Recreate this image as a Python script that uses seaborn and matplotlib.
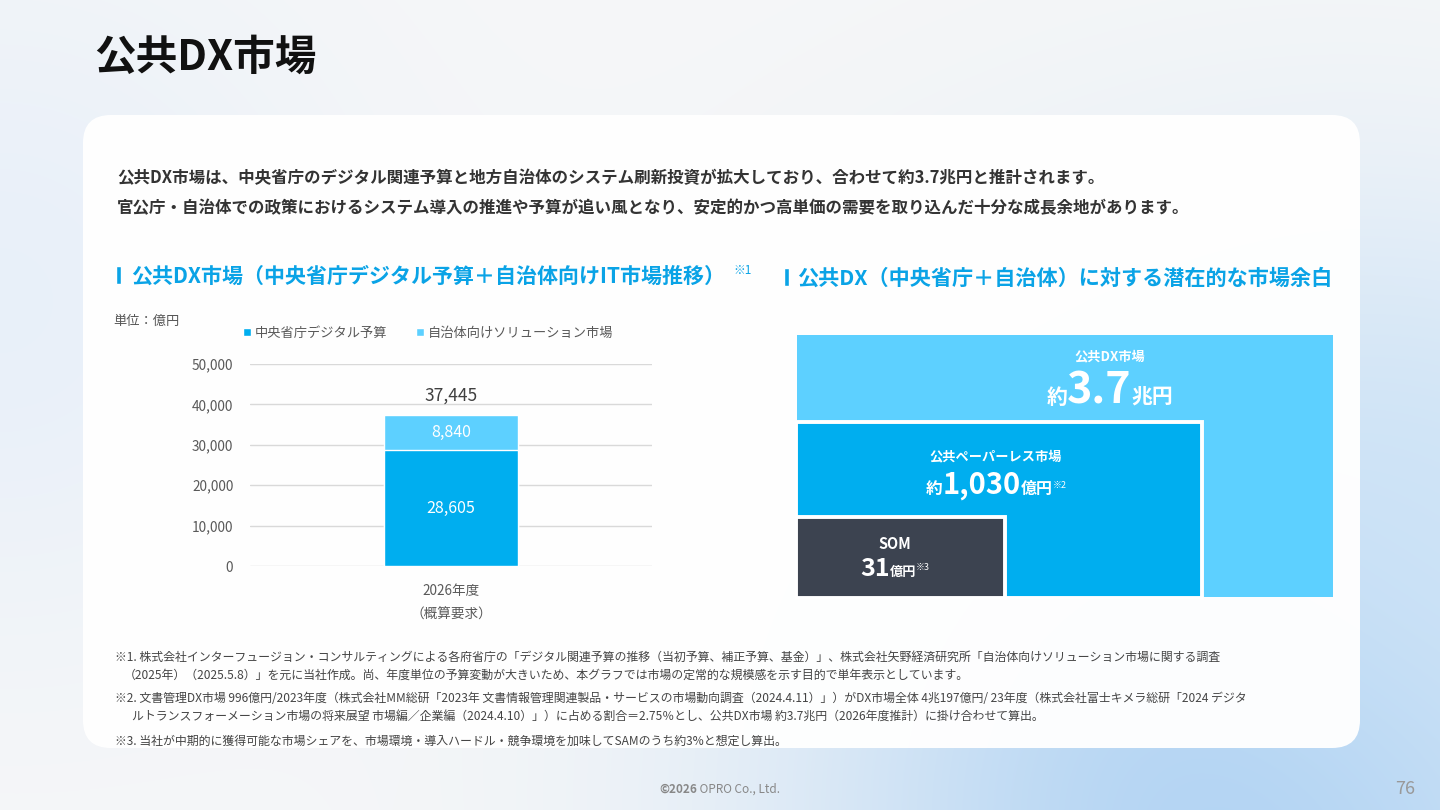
import numpy as np
import pandas as pd
import matplotlib
matplotlib.use("Agg")
import matplotlib.pyplot as plt
import seaborn as sns
from matplotlib.patches import FancyBboxPatch, Rectangle, Patch

# data
years = ["2026年度\n（概算要求）"]
central = [28605]      # 中央省庁デジタル予算
local = [8840]         # 自治体向けソリューション市場
series_names = ["中央省庁デジタル予算", "自治体向けソリューション市場"]
yticks = [0, 10000, 20000, 30000, 40000, 50000]

c_dark = "#00AEEF"
c_light = "#5DD0FF"
c_som = "#3C4350"
c_head = "#0AA3E6"

sns.set_theme(style="white")
plt.rcParams['font.family'] = ['Noto Sans CJK JP', 'DejaVu Sans']

fig = plt.figure(figsize=(14.4, 8.1), dpi=100)
renderer = fig.canvas.get_renderer()

# background in pixel coordinates
bg = fig.add_axes([0, 0, 1, 1], zorder=0)
bg.set_xlim(0, 1440)
bg.set_ylim(810, 0)
bg.axis("off")

yy, xx = np.mgrid[0:810, 0:1440]
img = np.ones((810, 1440, 3)) * np.array([0.965, 0.968, 0.973])
blobs = [((1250, 810), 320, np.array([0.68, 0.82, 0.95]), 0.95),
         ((1440, 520), 200, np.array([0.80, 0.89, 0.97]), 0.7),
         ((0, 300), 240, np.array([0.89, 0.93, 0.98]), 0.7)]
for (cx, cy), r, col, a in blobs:
    w = a * np.exp(-(((xx - cx) ** 2 + (yy - cy) ** 2) / (2 * r ** 2)))
    img = img * (1 - w[..., None]) + col * w[..., None]
bg.imshow(img, extent=(0, 1440, 810, 0), aspect="auto", zorder=0)

card = FancyBboxPatch((83, 115), 1277, 633, boxstyle="round,pad=0,rounding_size=28",
                      facecolor="white", edgecolor="none", alpha=0.97, zorder=1)
bg.add_patch(card)


def text_row(parts, cx, y, color="white", zorder=6):
    # parts: (string, fontsize, weight, y shift); the row is centred on cx
    placed = []
    x = 0
    for s, fs, fw, dy in parts:
        t = bg.text(x, y + dy, s, fontsize=fs, fontweight=fw, color=color,
                    ha="left", va="baseline", zorder=zorder)
        w = t.get_window_extent(renderer).width
        placed.append((t, x))
        x += w
    start = cx - x / 2
    for t, x0 in placed:
        t.set_x(start + x0)


# title and intro
bg.text(94, 58, "公共DX市場", fontsize=30, fontweight="bold", color="#111111", va="center", zorder=3)
bg.text(117, 178, "公共DX市場は、中央省庁のデジタル関連予算と地方自治体のシステム刷新投資が拡大しており、合わせて約3.7兆円と推計されます。",
        fontsize=11.9, fontweight="bold", color="#333333", va="center", zorder=3)
bg.text(117, 208, "官公庁・自治体での政策におけるシステム導入の推進や予算が追い風となり、安定的かつ高単価の需要を取り込んだ十分な成長余地があります。",
        fontsize=11.9, fontweight="bold", color="#333333", va="center", zorder=3)

# section headings
bg.add_patch(Rectangle((116, 266), 5, 18, facecolor=c_head, zorder=3))
bg.text(131, 276, "公共DX市場（中央省庁デジタル予算＋自治体向けIT市場推移）", fontsize=15.1,
        fontweight="bold", color=c_head, va="center", zorder=3)
bg.text(733, 271, "※1", fontsize=8.5, color=c_head, va="center", zorder=3)
bg.add_patch(Rectangle((784, 268), 5, 18, facecolor=c_head, zorder=3))
bg.text(797, 278, "公共DX（中央省庁＋自治体）に対する潜在的な市場余白", fontsize=15.2,
        fontweight="bold", color=c_head, va="center", zorder=3)

bg.text(113, 321, "単位：億円", fontsize=9.5, color="#555555", va="center", zorder=3)

# stacked bar chart
ax = fig.add_axes([250 / 1440, 1 - 566 / 810, 402 / 1440, 202 / 810], zorder=2)
ax.patch.set_alpha(0)
df = pd.DataFrame({"year": years, "central": central, "local": local})
df["total"] = df["central"] + df["local"]
sns.barplot(data=df, x="year", y="total", color=c_light, width=0.333, saturation=1, ax=ax, zorder=3)
sns.barplot(data=df, x="year", y="central", color=c_dark, width=0.333, saturation=1, ax=ax, zorder=3)
ax.set_ylim(0, 50000)
ax.set_xlim(-0.5, 0.5)
ax.set_yticks(yticks)
ax.set_yticklabels([f"{v:,}" for v in yticks], fontsize=9.8, color="#595959")
ax.tick_params(axis="x", labelsize=9.8, colors="#595959", length=0, pad=13)
ax.tick_params(axis="y", length=0, pad=12)
for lbl in ax.get_xticklabels():
    lbl.set_linespacing(1.9)
ax.set_xlabel("")
ax.set_ylabel("")
ax.yaxis.grid(True, color="#D9D9D9", linewidth=1)
ax.set_axisbelow(True)
for s in ax.spines.values():
    s.set_visible(False)
for i, row in df.iterrows():
    ax.text(i, row["central"] / 2, f"{row['central']:,}", ha="center", va="center",
            color="white", fontsize=11.5, zorder=4)
    ax.text(i, row["central"] + row["local"] / 2, f"{row['local']:,}", ha="center", va="center",
            color="white", fontsize=11.5, zorder=4)
    ax.text(i, row["total"] + 2500, f"{row['total']:,}", ha="center", va="bottom",
            color="#404040", fontsize=12.5, zorder=4)

handles = [Patch(facecolor=c_dark, label=series_names[0]), Patch(facecolor=c_light, label=series_names[1])]
fig.legend(handles=handles, loc="center", bbox_to_anchor=(428 / 1440, 1 - 333 / 810), ncol=2,
           frameon=False, fontsize=9.5, handlelength=0.6, handleheight=0.6, handletextpad=0.3,
           columnspacing=2.2, labelcolor="#595959")

# potential market (schematic nested boxes)
bg.add_patch(Rectangle((797, 335), 536, 262, facecolor=c_light, edgecolor="none", zorder=3))
bg.add_patch(Rectangle((796, 422), 406, 176, facecolor=c_dark, edgecolor="white", linewidth=2.8, zorder=4))
bg.add_patch(Rectangle((796, 517), 209, 81, facecolor=c_som, edgecolor="white", linewidth=2.8, zorder=5))

bg.text(1110, 356, "公共DX市場", fontsize=9.5, fontweight="bold", color="white", ha="center", va="center", zorder=6)
text_row([("約", 15, "bold", 0), ("3.7", 31, "bold", 0), ("兆円", 15, "bold", 0)], 1110, 404)

bg.text(996, 456, "公共ペーパーレス市場", fontsize=9.5, fontweight="bold", color="white", ha="center", va="center", zorder=6)
text_row([("約", 12, "bold", 0), ("1,030", 21, "bold", 0), ("億円", 11.5, "bold", 0),
          ("※2", 6.5, "normal", -6)], 996, 494)

bg.text(895, 544, "SOM", fontsize=10.5, fontweight="bold", color="white", ha="center", va="center", zorder=6)
text_row([("31", 18, "bold", 0), ("億円", 9.5, "bold", 0), ("※3", 6.5, "normal", -6)], 895, 576)

# footnotes
notes = [
    (115, 657, "※1. 株式会社インターフュージョン・コンサルティングによる各府省庁の「デジタル関連予算の推移（当初予算、補正予算、基金）」、株式会社矢野経済研究所「自治体向けソリューション市場に関する調査"),
    (124, 675, "（2025年）（2025.5.8）」を元に当社作成。尚、年度単位の予算変動が大きいため、本グラフでは市場の定常的な規模感を示す目的で単年表示としています。"),
    (115, 698, "※2. 文書管理DX市場 996億円/2023年度（株式会社MM総研「2023年 文書情報管理関連製品・サービスの市場動向調査（2024.4.11）」）がDX市場全体 4兆197億円/ 23年度（株式会社富士キメラ総研「2024 デジタ"),
    (132, 716, "ルトランスフォーメーション市場の将来展望 市場編／企業編（2024.4.10）」）に占める割合＝2.75％とし、公共DX市場 約3.7兆円（2026年度推計）に掛け合わせて算出。"),
    (115, 741, "※3. 当社が中期的に獲得可能な市場シェアを、市場環境・導入ハードル・競争環境を加味してSAMのうち約3%と想定し算出。"),
]
for x, y, t in notes:
    bg.text(x, y, t, fontsize=8.6, color="#444444", va="center", zorder=3)

# footer
text_row([("©2026", 8.5, "bold", 0), (" OPRO Co., Ltd.", 8.5, "normal", 0)], 720, 793, color="#888888", zorder=3)
bg.text(1405, 789, "76", fontsize=13, color="#999999", ha="center", va="center", zorder=3)

fig.savefig("out.png", dpi=100)
